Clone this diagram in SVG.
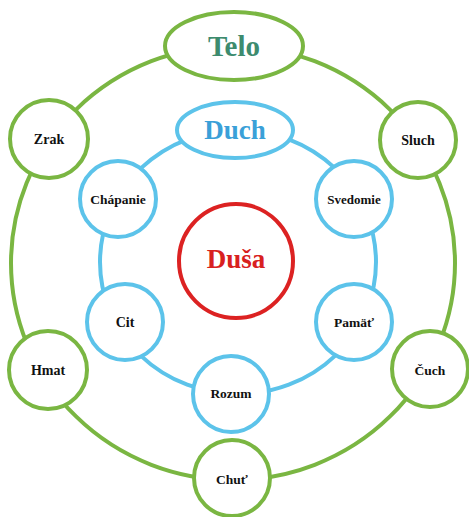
<svg xmlns="http://www.w3.org/2000/svg" width="469" height="517" viewBox="0 0 469 517">
<style>
.g{fill:#fff;stroke:#7ab642;stroke-width:4}
.b{fill:#fff;stroke:#5cc3ea;stroke-width:4}
.r{fill:#fff;stroke:#dc2222;stroke-width:4}
.lg{fill:none;stroke:#7ab642;stroke-width:4}
.lb{fill:none;stroke:#5cc3ea;stroke-width:4}
text{font-family:"Liberation Serif","Times New Roman",serif;font-weight:bold;text-anchor:middle;dominant-baseline:central;fill:#111}
.s{font-size:14px}
.m{font-size:13.5px}
.big{font-size:27px}
</style>
<rect width="469" height="517" fill="#fff"/>
<g id="connectors">
<ellipse class="lg" cx="233" cy="263" rx="222" ry="217"/>
<ellipse class="lb" cx="238" cy="262" rx="138" ry="132"/>
</g>
<g id="telo"><ellipse class="g" cx="234" cy="46" rx="69" ry="34"/><text class="big" x="234" y="46" style="fill:#3d8b6e;font-size:29px">Telo</text></g>
<g id="zrak"><circle class="g" cx="49" cy="139" r="39"/><text class="s" x="49" y="139">Zrak</text></g>
<g id="sluch"><circle class="g" cx="418" cy="140" r="38"/><text class="s" x="418" y="140">Sluch</text></g>
<g id="hmat"><circle class="g" cx="48" cy="370" r="39"/><text class="s" x="48" y="370">Hmat</text></g>
<g id="cuch"><circle class="g" cx="430" cy="369" r="38"/><text class="m" x="430" y="370">Čuch</text></g>
<g id="chut"><circle class="g" cx="232" cy="478" r="38"/><text class="m" x="232" y="479">Chuť</text></g>
<g id="duch"><ellipse class="b" cx="235" cy="130" rx="58" ry="28"/><text class="big" x="235" y="130" style="fill:#3aa0d8">Duch</text></g>
<g id="chapanie"><circle class="b" cx="118" cy="199" r="38"/><text class="m" x="118" y="199">Chápanie</text></g>
<g id="svedomie"><circle class="b" cx="354" cy="199" r="38"/><text class="m" x="354" y="199" style="font-size:13px">Svedomie</text></g>
<g id="cit"><circle class="b" cx="125" cy="322" r="38"/><text class="s" x="125" y="322">Cit</text></g>
<g id="pamat"><circle class="b" cx="354" cy="322" r="38"/><text class="m" x="354" y="322">Pamäť</text></g>
<g id="rozum"><circle class="b" cx="231" cy="394" r="38"/><text class="m" x="231" y="393">Rozum</text></g>
<g id="dusa"><circle class="r" cx="236" cy="261" r="57"/><text class="big" x="236" y="259" style="fill:#d82020">Duša</text></g>
</svg>
